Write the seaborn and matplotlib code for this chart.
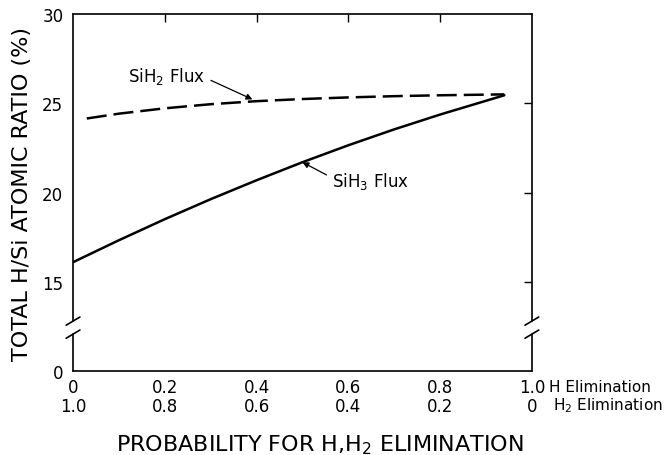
import matplotlib
matplotlib.use("Agg")
import matplotlib.pyplot as plt
import seaborn as sns
import pandas as pd

# H-elimination probability (H2-elimination probability is 1 - p)
sih2_p = [0.03, 0.1, 0.2, 0.3, 0.4, 0.5, 0.6, 0.7, 0.8, 0.94]
sih2_ratio = [24.15, 24.42, 24.72, 24.95, 25.12, 25.24, 25.33, 25.40, 25.45, 25.5]

sih3_p = [0.0, 0.1, 0.2, 0.3, 0.4, 0.5, 0.6, 0.7, 0.8, 0.94]
sih3_ratio = [16.1, 17.33, 18.51, 19.63, 20.69, 21.7, 22.65, 23.54, 24.37, 25.45]

x_ticks = [0.0, 0.2, 0.4, 0.6, 0.8, 1.0]
x_labels_h = ["0", "0.2", "0.4", "0.6", "0.8", "1.0"]
x_labels_h2 = ["1.0", "0.8", "0.6", "0.4", "0.2", "0"]
y_ticks = [10, 15, 20, 25, 30]
y_labels = ["0", "15", "20", "25", "30"]

df = pd.concat([
    pd.DataFrame({"p": sih2_p, "ratio": sih2_ratio, "flux": "SiH2"}),
    pd.DataFrame({"p": sih3_p, "ratio": sih3_ratio, "flux": "SiH3"}),
])

sns.set_style("white")
plt.rcParams["font.family"] = ["DejaVu Sans"]
plt.rcParams["text.color"] = "black"
plt.rcParams["axes.labelcolor"] = "black"
plt.rcParams["xtick.color"] = "black"
plt.rcParams["ytick.color"] = "black"

fig = plt.figure(figsize=(6.64, 4.56), dpi=100)
ax = fig.add_axes([0.110, 0.184, 0.691, 0.783])

sns.lineplot(data=df, x="p", y="ratio", style="flux",
             dashes={"SiH2": (8, 2.8), "SiH3": ""},
             color="black", linewidth=1.8, legend=False, ax=ax)

ax.set_xlim(0, 1.0)
ax.set_ylim(10, 30)

# frame: top and bottom spines normal, vertical sides drawn with a break
for s in ["left", "right"]:
    ax.spines[s].set_visible(False)
for s in ["top", "bottom"]:
    ax.spines[s].set_linewidth(1.2)
    ax.spines[s].set_color("black")

brk_hi, brk_lo = 12.8, 12.07
for xs in (0.0, 1.0):
    ax.plot([xs, xs], [brk_hi, 30], color="black", lw=1.2, clip_on=False)
    ax.plot([xs, xs], [10, brk_lo], color="black", lw=1.2, clip_on=False)
    for yc in (brk_hi, brk_lo):
        ax.plot([xs - 0.015, xs + 0.015], [yc - 0.23, yc + 0.23],
                color="black", lw=1.2, clip_on=False)

ax.set_xticks(x_ticks)
ax.set_xticklabels([f"{a}\n{b}" for a, b in zip(x_labels_h, x_labels_h2)],
                   fontsize=12, linespacing=1.1)
ax.set_yticks(y_ticks)
ax.set_yticklabels(y_labels, fontsize=12)
ax.tick_params(axis="both", direction="in", length=6, width=1.0,
               top=True, right=True, pad=5, colors="black")
ax.tick_params(axis="y", pad=7)
# no tick marks at the frame corners
for t in ax.xaxis.get_major_ticks():
    if t.get_loc() in (0.0, 1.0):
        t.tick1line.set_visible(False)
        t.tick2line.set_visible(False)
for t in ax.yaxis.get_major_ticks():
    if t.get_loc() in (10, 30):
        t.tick1line.set_visible(False)
        t.tick2line.set_visible(False)

ax.text(1.037, -0.043, "H Elimination", transform=ax.transAxes,
        fontsize=11, ha="left", va="center")
ax.text(1.046, -0.093, "H$_2$ Elimination", transform=ax.transAxes,
        fontsize=11, ha="left", va="center")

ax.set_xlabel("PROBABILITY FOR H,H$_2$ ELIMINATION", fontsize=16)
ax.xaxis.set_label_coords(0.537, -0.173)
ax.set_ylabel("TOTAL H/Si ATOMIC RATIO (%)", fontsize=16)
ax.yaxis.set_label_coords(-0.09, 0.5)

ax.annotate("SiH$_2$ Flux", xy=(0.391, 25.22), xytext=(0.12, 26.55),
            fontsize=12, va="center", ha="left",
            arrowprops=dict(arrowstyle="-|>", color="black", lw=0.9,
                            shrinkA=2, shrinkB=0, mutation_scale=9,
                            relpos=(1.0, 0.4)))
ax.annotate("SiH$_3$ Flux", xy=(0.5, 21.7), xytext=(0.565, 20.7),
            fontsize=12, va="center", ha="left",
            arrowprops=dict(arrowstyle="-|>", color="black", lw=0.9,
                            shrinkA=2, shrinkB=0, mutation_scale=9,
                            relpos=(0.0, 0.6)))

fig.savefig("out.png", dpi=100)
